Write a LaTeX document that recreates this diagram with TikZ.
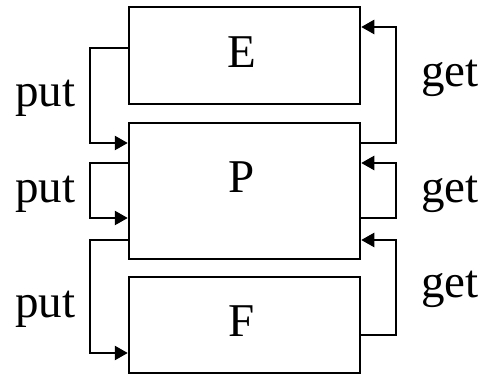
\documentclass[tikz,border=0pt]{standalone}
\usepackage{fontspec}
\setmainfont{Liberation Serif}
\usetikzlibrary{arrows.meta}
\begin{document}
\begin{tikzpicture}[x=1pt,y=-1pt,
  proc/.style={draw, line width=2.5pt, minimum width=231pt, inner sep=0pt},
  big/.style={font=\fontsize{47}{50}\selectfont, anchor=base, inner sep=0pt},
  flow/.style={line width=2.5pt, -{Triangle[length=13pt,width=14pt]}}]
  \useasboundingbox (0,0) rectangle (488,377);
  % the three boxes
  \node[proc, minimum height=97pt]  (E) at (244.5,55.5) {};
  \node[proc, minimum height=136pt] (P) at (244.5,191) {};
  \node[proc, minimum height=96pt]  (F) at (244.5,325) {};
  \node[big] (tE) at (242,68) {E};
  \node[big] (tP) at (242,193) {P};
  \node[big] (tF) at (242,336) {F};
  % put channels on the left
  \coordinate (e1) at (E.west |- 0,48);
  \coordinate (p1) at (P.west |- 0,143);
  \coordinate (p2) at (P.west |- 0,163);
  \coordinate (p3) at (P.west |- 0,218);
  \coordinate (p4) at (P.west |- 0,240);
  \coordinate (f1) at (F.west |- 0,353);
  \draw[flow] (e1) -| (90,95) |- (p1);
  \draw[flow] (p2) -| (90,190) |- (p3);
  \draw[flow] (p4) -| (90,300) |- (f1);
  % get channels on the right
  \coordinate (E1) at (E.east |- 0,27);
  \coordinate (P1) at (P.east |- 0,143);
  \coordinate (P2) at (P.east |- 0,163);
  \coordinate (P3) at (P.east |- 0,218);
  \coordinate (P4) at (P.east |- 0,240);
  \coordinate (F1) at (F.east |- 0,335);
  \draw[flow] (P1) -| (396,80) |- (E1);
  \draw[flow] (P3) -| (396,190) |- (P2);
  \draw[flow] (F1) -| (396,290) |- (P4);
  % labels
  \node[big] (lp1) at (45.5,107) {put};
  \node[big] (lp2) at (45.5,203) {put};
  \node[big] (lp3) at (45.5,317) {put};
  \node[big] (lg1) at (450,87) {get};
  \node[big] (lg2) at (450,203) {get};
  \node[big] (lg3) at (450,298) {get};
\end{tikzpicture}
\end{document}
